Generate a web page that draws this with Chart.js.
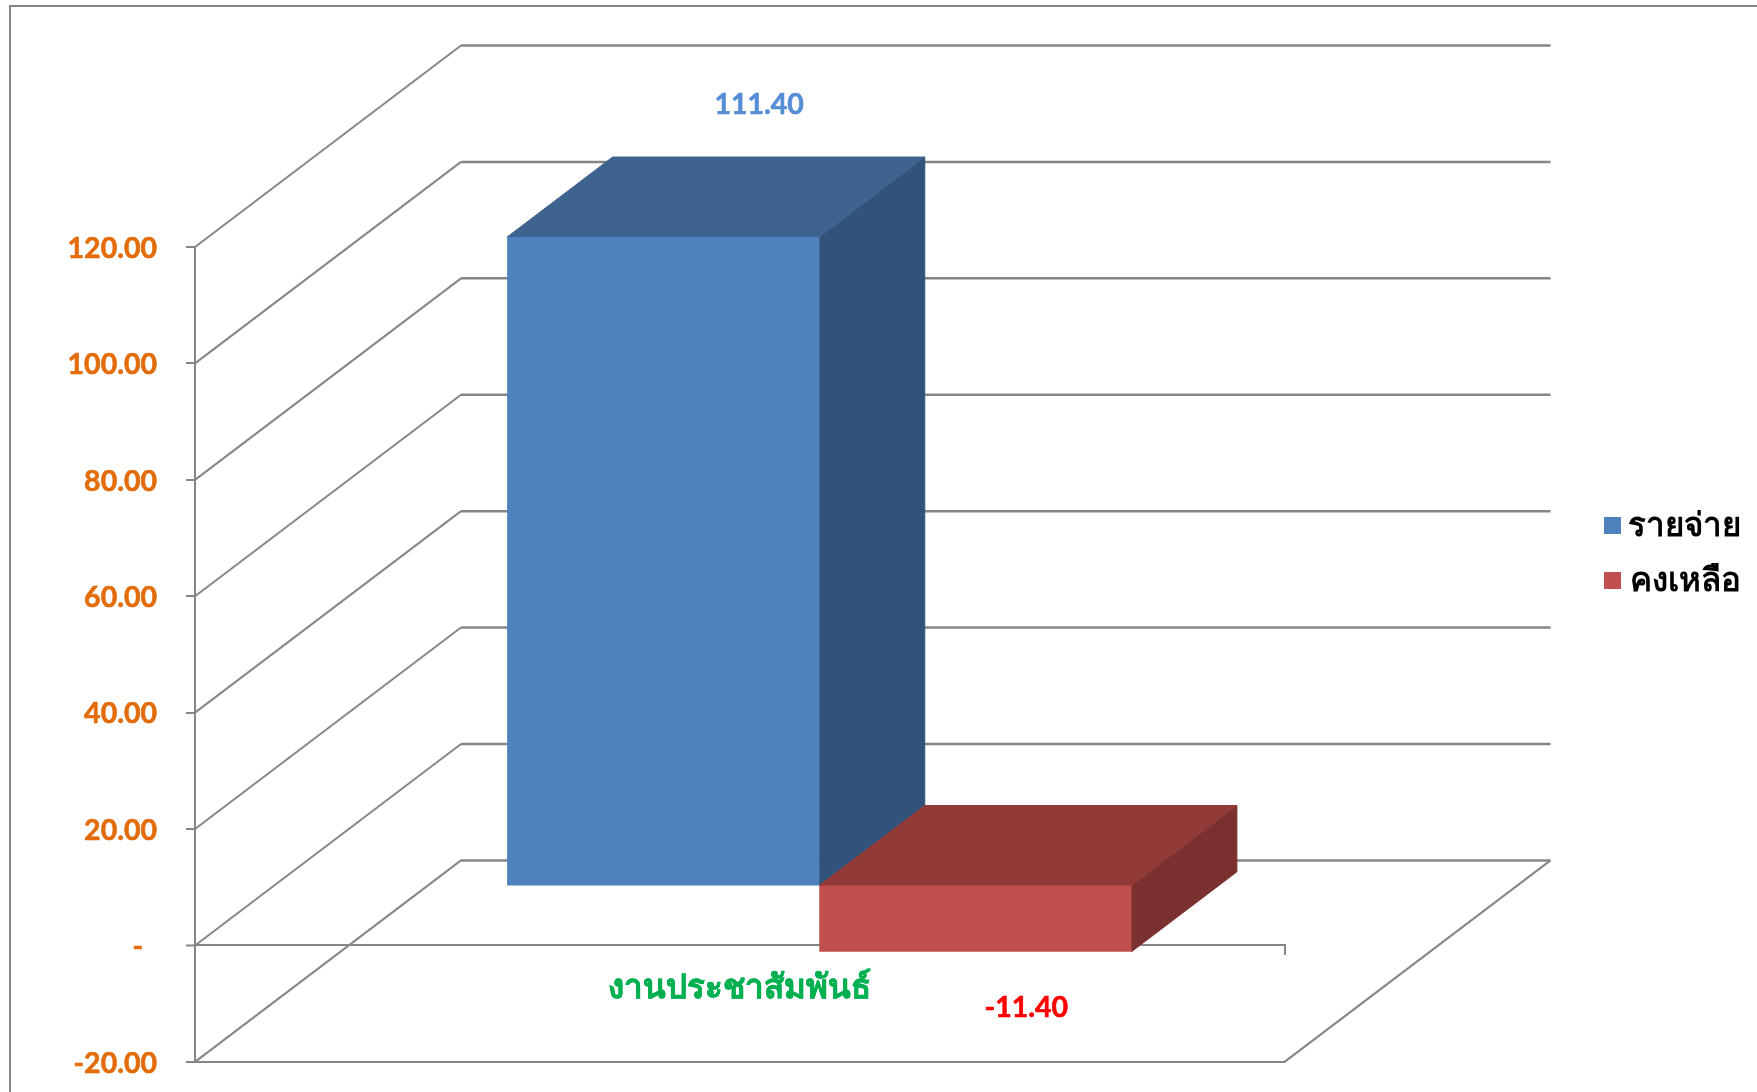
<!DOCTYPE html>
<html>
<head>
<meta charset="utf-8">
<style>
  html, body { margin: 0; padding: 0; background: #fff; overflow: hidden; }
  canvas { display: block; }
</style>
<script src="https://cdn.jsdelivr.net/npm/chart.js@4/dist/chart.umd.min.js"></script>
</head>
<body>
<!-- taller than the window: the layout keeps some room under the plot, it falls below the fold -->
<canvas id="myChart" width="1757" height="1108"></canvas>
<script>
const categories = ['งานประชาสัมพันธ์'];
const seriesNames = ['รายจ่าย', 'คงเหลือ'];
const expenseValues = [111.40];
const balanceValues = [-11.40];
const yMin = -20;
const yMax = 120;
const yStep = 20;

const FONT = 'Lato, "Noto Sans", sans-serif';
const LINE = '#868686';
const ORANGE = '#E36C09';
const GREEN = '#00B050';
// depth of the floor and how far the bars sit behind the front edge
const WALL_DX = 266, WALL_DY = 201.5;
const BAR_DX = 79.5, BAR_DY = 60;
const DEPTH_DX = 105.5, DEPTH_DY = 80;

const faceColors = [
  { top: '#3F638F', side: '#31527A' },
  { top: '#913A38', side: '#7A302E' },
];
const valueLabels = [
  { color: '#558ED5', dx: 96, dy: -132 },
  { color: '#FF0000', dx: 51, dy: 56 },
];

function poly(ctx, color, pts) {
  ctx.fillStyle = color;
  ctx.strokeStyle = color;
  ctx.lineWidth = 1;
  ctx.beginPath();
  pts.forEach(function (p, i) {
    if (i === 0) ctx.moveTo(p[0], p[1]); else ctx.lineTo(p[0], p[1]);
  });
  ctx.closePath();
  ctx.fill();
  ctx.stroke();
}

const box3d = {
  id: 'box3d',
  afterLayout(chart) {
    // legend sits well to the right of the plot; the text is right aligned to legend.right
    const legend = chart.legend;
    legend.left = 1582; legend.right = 1741;
    legend.top = 487; legend.bottom = 487 + legend.height;
    // the Lato digits sit a little high on their tick
    const y = chart.scales.y;
    if (!y.labelsShifted) {
      const drawLabels = y.drawLabels;
      y.drawLabels = function (area) {
        chart.ctx.save();
        chart.ctx.translate(0, 1.5);
        drawLabels.call(y, area);
        chart.ctx.restore();
      };
      y.labelsShifted = true;
    }
  },
  beforeDatasetsDraw(chart) {
    const ctx = chart.ctx;
    const y = chart.scales.y;
    const x0 = chart.chartArea.left, x1 = chart.chartArea.right;
    ctx.save();
    ctx.strokeStyle = LINE;
    // outer frame
    ctx.lineWidth = 2;
    ctx.strokeRect(10, 6, 1800, 1800);
    y.ticks.forEach(function (t) {
      const py = y.getPixelForValue(t.value);
      ctx.lineWidth = 2;
      ctx.beginPath();
      ctx.moveTo(x0, py);
      ctx.lineTo(x0 + WALL_DX, py - WALL_DY);
      ctx.stroke();
      ctx.lineWidth = 2.5;
      ctx.beginPath();
      ctx.moveTo(x0 + WALL_DX, py - WALL_DY);
      ctx.lineTo(x1 + WALL_DX, py - WALL_DY);
      ctx.stroke();
    });
    // tick at zero, its grid width is 0 so the two bars meet without a gap
    const zero = y.getPixelForValue(0);
    ctx.lineWidth = 2;
    ctx.beginPath();
    ctx.moveTo(x0 - 9, zero);
    ctx.lineTo(x0, zero);
    ctx.stroke();
    // floor, front and right edges
    const floor = y.getPixelForValue(yMin);
    ctx.beginPath();
    ctx.moveTo(x0, floor);
    ctx.lineTo(x1, floor);
    ctx.lineTo(x1 + WALL_DX, floor - WALL_DY);
    ctx.stroke();
    // top and side faces of the bars, left bar first so the right one overlaps it
    chart.data.datasets.forEach(function (ds, i) {
      const bar = chart.getDatasetMeta(i).data[0];
      const l = bar.x - bar.width / 2 + BAR_DX, r = bar.x + bar.width / 2 + BAR_DX;
      const t = Math.min(bar.y, bar.base) - BAR_DY, b = Math.max(bar.y, bar.base) - BAR_DY;
      const c = faceColors[i];
      poly(ctx, c.side, [[r, t], [r + DEPTH_DX, t - DEPTH_DY], [r + DEPTH_DX, b - DEPTH_DY], [r, b]]);
      poly(ctx, c.top, [[l, t], [r, t], [r + DEPTH_DX, t - DEPTH_DY], [l + DEPTH_DX, t - DEPTH_DY]]);
    });
    ctx.restore();
  },
  beforeDatasetDraw(chart) {
    chart.ctx.save();
    chart.ctx.translate(BAR_DX, -BAR_DY);
  },
  afterDatasetDraw(chart) {
    chart.ctx.restore();
  },
  afterDatasetsDraw(chart) {
    const ctx = chart.ctx;
    ctx.save();
    ctx.font = 'bold 28.5px ' + FONT;
    ctx.textAlign = 'center';
    ctx.textBaseline = 'middle';
    ctx.lineWidth = 0.6;
    chart.data.datasets.forEach(function (ds, i) {
      const bar = chart.getDatasetMeta(i).data[0];
      const s = valueLabels[i];
      const edge = ds.data[0] >= 0 ? Math.min(bar.y, bar.base) : Math.max(bar.y, bar.base);
      const text = ds.data[0].toFixed(2);
      const tx = bar.x + BAR_DX + s.dx, ty = edge - BAR_DY + s.dy;
      ctx.fillStyle = s.color;
      ctx.strokeStyle = s.color;
      ctx.fillText(text, tx, ty);
      ctx.strokeText(text, tx, ty);
    });
    ctx.restore();
  },
};

const chart = new Chart(document.getElementById('myChart').getContext('2d'), {
  type: 'bar',
  data: {
    labels: categories,
    datasets: [
      { label: seriesNames[0], data: expenseValues, backgroundColor: '#4F81BD', clip: false },
      { label: seriesNames[1], data: balanceValues, backgroundColor: '#C0504D', clip: false },
    ],
  },
  plugins: [box3d],
  options: {
    responsive: false,
    animation: false,
    layout: { padding: { left: 0, top: 247, bottom: 15, right: 294 } },
    categoryPercentage: 0.573,
    barPercentage: 1,
    plugins: {
      tooltip: { enabled: false },
      legend: {
        position: 'right',
        align: 'start',
        labels: {
          boxWidth: 17,
          boxHeight: 17,
          padding: 22,
          textAlign: 'right',
          color: '#000',
          font: { family: FONT, size: 33, weight: 'bold' },
        },
      },
    },
    scales: {
      x: {
        position: { y: 0 },
        z: 1,
        afterFit(scale) { scale.height = 0; },
        grid: { drawOnChartArea: false, color: LINE, lineWidth: 2, tickLength: 9 },
        border: { color: LINE, width: 2 },
        ticks: {
          color: GREEN,
          textStrokeColor: GREEN,
          textStrokeWidth: 0.5,
          padding: 13,
          maxRotation: 0,
          font: { family: FONT, size: 33, weight: 'bold' },
        },
      },
      y: {
        min: yMin,
        max: yMax,
        afterFit(scale) { scale.width = 195; },
        grid: {
          drawOnChartArea: false,
          color: LINE,
          lineWidth(c) { return c.tick && c.tick.value === 0 ? 0 : 2; },
          tickLength: 9,
        },
        border: { color: LINE, width: 2 },
        ticks: {
          stepSize: yStep,
          color: ORANGE,
          textStrokeColor: ORANGE,
          textStrokeWidth: 0.6,
          padding: 29,
          font: { family: FONT, size: 28.5, weight: 'bold' },
          callback(v) { return v === 0 ? '-  ' : v.toFixed(2); },
        },
      },
    },
  },
});
</script>
</body>
</html>
